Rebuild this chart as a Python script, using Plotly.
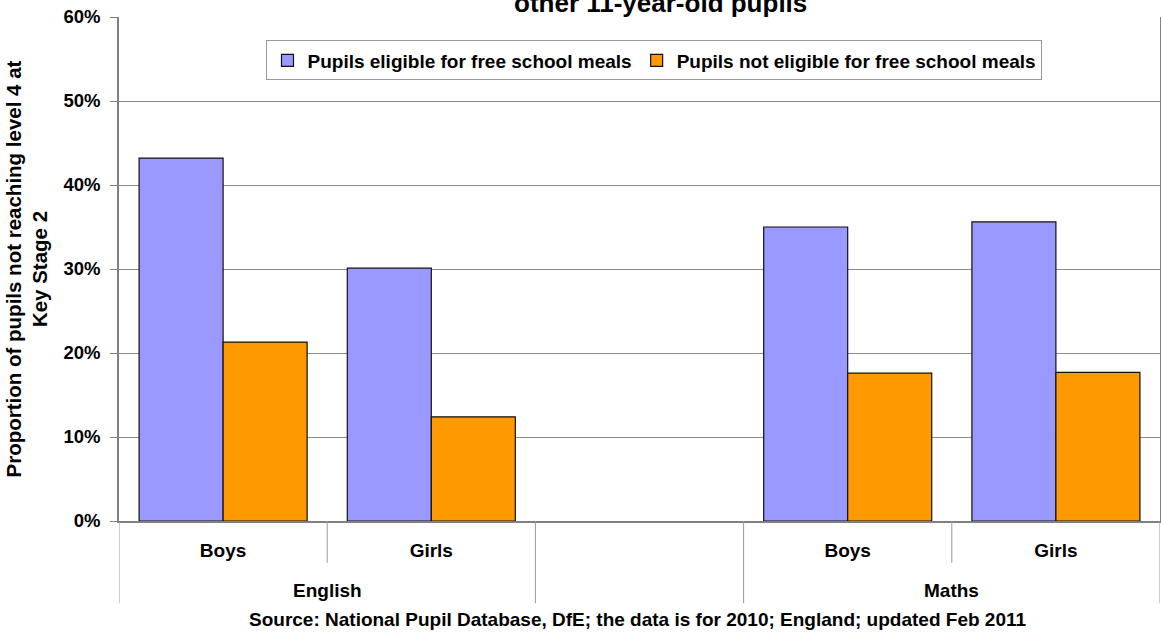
import plotly.graph_objects as go

# ---- data ----
subjects = ["English", "English", "", "Maths", "Maths"]
genders = ["Boys", "Girls", "", "Boys", "Girls"]
fsm_eligible = [43.2, 30.1, None, 35.0, 35.6]
fsm_not_eligible = [21.3, 12.4, None, 17.6, 17.7]
series_names = ["Pupils eligible for free school meals",
                "Pupils not eligible for free school meals"]
series_colors = ["#9999FF", "#FF9900"]
y_ticks = [0, 10, 20, 30, 40, 50, 60]
y_tick_labels = ["0%", "10%", "20%", "30%", "40%", "50%", "60%"]
title_text = "other 11-year-old pupils"
y_title = "Proportion of pupils not reaching level 4 at<br>Key Stage 2"
source_text = "Source: National Pupil Database, DfE; the data is for 2010; England; updated Feb 2011"

FONT = "Liberation Sans, Arial, sans-serif"
x_idx = list(range(len(genders)))

fig = go.Figure()
for name, vals, col in zip(series_names, [fsm_eligible, fsm_not_eligible], series_colors):
    fig.add_trace(go.Bar(
        x=x_idx, y=vals, name=name,
        marker=dict(color=col, line=dict(color="#111111", width=1.2)),
    ))

# category dividers below the axis
shapes = []
bounds = [i - 0.5 for i in range(len(genders) + 1)]
for b in bounds:
    left = subjects[int(b - 0.5)] if b - 0.5 >= 0 else None
    right = subjects[int(b + 0.5)] if b + 0.5 < len(subjects) else None
    full = (left != right) or left is None or right is None
    shapes.append(dict(type="line", xref="x", yref="paper", x0=b, x1=b,
                       y0=0, y1=-0.163 if full else -0.083,
                       line=dict(color="#999999", width=1)))

annotations = []
# group labels
seen = []
for s in subjects:
    if s and s not in seen:
        seen.append(s)
for s in seen:
    pos = [i for i, v in enumerate(subjects) if v == s]
    annotations.append(dict(text="<b>%s</b>" % s, xref="x", yref="paper",
                            x=sum(pos) / len(pos), y=-0.137, showarrow=False,
                            yanchor="middle", font=dict(size=19, family=FONT, color="black")))
annotations.append(dict(text="<b>%s</b>" % source_text, xref="paper", yref="paper",
                        x=0.4976, y=-0.196, showarrow=False, yanchor="middle",
                        font=dict(size=19, family=FONT, color="black")))
annotations.append(dict(text="<b>%s</b>" % title_text, xref="paper", yref="paper",
                        x=0.52, y=1.028, showarrow=False, yanchor="middle",
                        font=dict(size=26, family=FONT, color="black")))

fig.update_layout(
    width=1161, height=633,
    margin=dict(l=119, r=1, t=17, b=112, autoexpand=False),
    paper_bgcolor="white", plot_bgcolor="white",
    barmode="group", bargap=0.193, bargroupgap=0,
    font=dict(family=FONT, size=19, color="black"),
    showlegend=True,
    legend=dict(orientation="h", x=0.5144, y=0.9137, xanchor="center", yanchor="middle",
                bgcolor="white", bordercolor="#999999", borderwidth=1,
                font=dict(size=19, family=FONT, color="black", weight="bold"),
                itemwidth=30),
    xaxis=dict(range=[-0.5, len(genders) - 0.5], tickvals=x_idx, ticktext=genders,
               ticks="", showgrid=False, zeroline=False,
               showline=True, linecolor="#808080", linewidth=1.5,
               tickfont=dict(size=19, family=FONT, color="black", weight="bold"),
               ticklabelstandoff=11),
    yaxis=dict(range=[0, 60], tickmode="array", tickvals=y_ticks, ticktext=y_tick_labels,
               ticks="outside", ticklen=7, tickcolor="#808080",
               showgrid=True, gridcolor="#8c8c8c", gridwidth=1,
               zeroline=False, showline=True, linecolor="#808080", linewidth=1.5,
               mirror=True, ticklabelstandoff=6,
               tickfont=dict(size=18.5, family=FONT, color="black", weight="bold"),
               title=dict(text="<b>%s</b>" % y_title, standoff=10,
                          font=dict(size=20.5, family=FONT, color="black"))),
    shapes=shapes,
    annotations=annotations,
)

fig.write_html("out.html")
